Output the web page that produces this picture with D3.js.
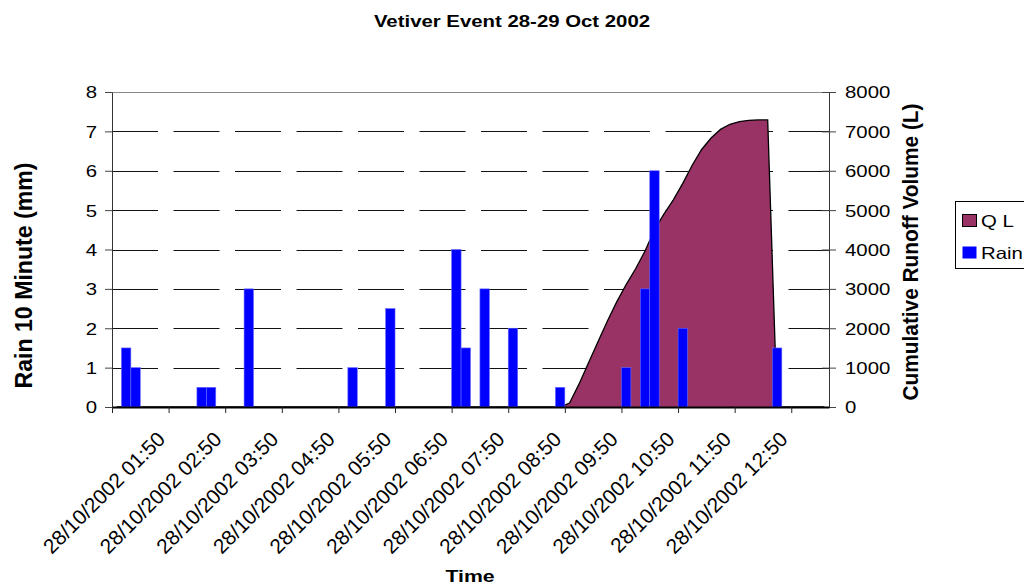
<!DOCTYPE html>
<html>
<head>
<meta charset="utf-8">
<script src="https://cdn.jsdelivr.net/npm/d3@7"></script>
<style>
  body { margin: 0; background: #fff; }
  text { font-family: "Liberation Sans", Arial, sans-serif; fill: #000; }
</style>
</head>
<body>
<svg id="chart" width="1024" height="586"></svg>
<script>
// rain per 10 minute step (mm), one value per category starting 28/10/2002 01:00
const rain = [
  0, 1.5, 1.0, 0, 0, 0, 0, 0, 0, 0.5, 0.5, 0,
  0, 0, 3.0, 0, 0, 0, 0, 0, 0, 0, 0, 0,
  0, 1.0, 0, 0, 0, 2.5, 0, 0, 0, 0, 0, 0,
  4.0, 1.5, 0, 3.0, 0, 0, 2.0, 0, 0, 0, 0, 0.5,
  0, 0, 0, 0, 0, 0, 1.0, 0, 3.0, 6.0, 0, 0,
  2.0, 0, 0, 0, 0, 0, 0, 0, 0, 0, 1.5, 0,
  0, 0, 0, 0
];

// cumulative runoff volume Q (L), same categories
const runoff = [
  0, 0, 0, 0, 0, 0, 0, 0, 0, 0, 0, 0,
  0, 0, 0, 0, 0, 0, 0, 0, 0, 0, 0, 0,
  0, 0, 0, 0, 0, 0, 0, 0, 0, 0, 0, 0,
  0, 0, 0, 0, 0, 0, 0, 0, 0, 0, 0, 0,
  100, 580, 1120, 1650, 2180, 2670, 3110, 3510, 3960, 4500, 4900, 5260,
  5680, 6140, 6540, 6830, 7050, 7180, 7250, 7280, 7290, 7290, 0, 0,
  0, 0, 0, 0
];

const tickIndex = [5, 11, 17, 23, 29, 35, 41, 47, 53, 59, 65, 71];
const tickLabels = [
  '28/10/2002 01:50', '28/10/2002 02:50', '28/10/2002 03:50', '28/10/2002 04:50',
  '28/10/2002 05:50', '28/10/2002 06:50', '28/10/2002 07:50', '28/10/2002 08:50',
  '28/10/2002 09:50', '28/10/2002 10:50', '28/10/2002 11:50', '28/10/2002 12:50'
];
const rainTicks = [0, 1, 2, 3, 4, 5, 6, 7, 8];
const runoffTicks = [0, 1000, 2000, 3000, 4000, 5000, 6000, 7000, 8000];
const gridValues = [1, 2, 3, 4, 5, 6, 7];

const width = 1024;
const height = 586;
const plot = {left: 112, right: 829, top: 92, bottom: 407};
const SX = 1.25; // the old picture is stretched sideways, text too

const svg = d3.select('#chart');
svg.append('rect').attr('width', width).attr('height', height).attr('fill', '#fff');

const x = d3.scaleBand()
  .domain(d3.range(rain.length))
  .range([plot.left, plot.right])
  .padding(0);
const xEdge = d3.scaleLinear().domain([0, rain.length]).range([plot.left, plot.right]);
const yRain = d3.scaleLinear().domain([0, 8]).range([plot.bottom, plot.top]);
const yRunoff = d3.scaleLinear().domain([0, 8000]).range([plot.bottom, plot.top]);
const cx = i => x(i) + x.bandwidth() / 2;

// dashed grid
svg.append('g')
  .selectAll('line')
  .data(gridValues)
  .enter()
  .append('line')
  .attr('x1', plot.left)
  .attr('x2', plot.right)
  .attr('y1', d => Math.round(yRain(d)) + 0.5)
  .attr('y2', d => Math.round(yRain(d)) + 0.5)
  .attr('stroke', '#111')
  .attr('stroke-dasharray', '46,15.5');

svg.append('line')
  .attr('x1', plot.left).attr('x2', plot.right)
  .attr('y1', plot.top + 0.5).attr('y2', plot.top + 0.5)
  .attr('stroke', '#888');

// Q L area
const area = d3.area()
  .x((d, i) => cx(i))
  .y0(plot.bottom)
  .y1(d => yRunoff(d));
const line = d3.line()
  .x((d, i) => cx(i))
  .y(d => yRunoff(d));

svg.append('path').datum(runoff).attr('d', area).attr('fill', '#993366');
svg.append('path').datum(runoff).attr('d', line)
  .attr('fill', 'none').attr('stroke', '#000').attr('stroke-width', 1.3);

// rain columns
svg.append('g')
  .selectAll('rect')
  .data(rain.map((v, i) => ({i, v})).filter(d => d.v > 0))
  .enter()
  .append('rect')
  .attr('x', d => x(d.i))
  .attr('width', x.bandwidth())
  .attr('y', d => yRain(d.v))
  .attr('height', d => yRain(0) - yRain(d.v))
  .attr('fill', '#0000ff')
  .attr('stroke', '#6a6aff')
  .attr('stroke-width', 0.6);

// left axis
const axisL = svg.append('g')
  .attr('transform', `translate(${plot.left},0)`)
  .call(d3.axisLeft(yRain).tickValues(rainTicks).tickSize(7).tickSizeOuter(0));
axisL.select('.domain').attr('stroke', '#333');
axisL.selectAll('.tick line').attr('stroke', '#444');
axisL.selectAll('.tick text')
  .attr('x', null)
  .attr('dy', '0.36em')
  .attr('transform', `translate(-15,0) scale(${SX},1)`)
  .attr('text-anchor', 'end')
  .style('font-size', '16.3px');

// right axis
const axisR = svg.append('g')
  .attr('transform', `translate(${plot.right},0)`)
  .call(d3.axisRight(yRunoff).tickValues(runoffTicks).tickSize(7).tickSizeOuter(0).tickFormat(d3.format('d')));
axisR.select('.domain').attr('stroke', '#333');
axisR.selectAll('.tick line').attr('x1', -7).attr('stroke', '#444');
axisR.selectAll('.tick text')
  .attr('x', null)
  .attr('dy', '0.36em')
  .attr('transform', `translate(16,0) scale(${SX},1)`)
  .attr('text-anchor', 'start')
  .style('font-size', '16.3px');

// bottom axis: tick marks between hours, labels on categories
const axisB = svg.append('g')
  .attr('transform', `translate(0,${plot.bottom})`)
  .call(d3.axisBottom(xEdge).tickValues(d3.range(0, rain.length, 6)).tickSize(6).tickSizeOuter(0).tickFormat(''));
axisB.select('.domain').attr('stroke', '#000').attr('stroke-width', 2);
axisB.selectAll('.tick line').attr('stroke', '#222');

const axisLabels = svg.append('g')
  .attr('transform', `translate(0,${plot.bottom})`)
  .call(d3.axisBottom(x).tickValues(tickIndex).tickSize(0).tickFormat((d, k) => tickLabels[k]));
axisLabels.select('.domain').remove();
axisLabels.selectAll('.tick text')
  .attr('y', null)
  .attr('dy', '0.1em')
  .attr('transform', 'translate(1,32) rotate(-45)')
  .attr('text-anchor', 'end')
  .style('font-size', '20.8px');

// titles
svg.append('text')
  .attr('transform', `translate(512,27) scale(${SX},1)`)
  .attr('text-anchor', 'middle')
  .style('font-weight', 'bold')
  .style('font-size', '16.3px')
  .text('Vetiver Event 28-29 Oct 2002');

svg.append('text')
  .attr('transform', `translate(470,582) scale(${SX},1)`)
  .attr('text-anchor', 'middle')
  .style('font-weight', 'bold')
  .style('font-size', '17px')
  .text('Time');

svg.append('text')
  .attr('transform', `translate(32,275.5) scale(${SX},1) rotate(-90)`)
  .attr('text-anchor', 'middle')
  .attr('textLength', 226)
  .attr('lengthAdjust', 'spacingAndGlyphs')
  .style('font-weight', 'bold')
  .style('font-size', '19.5px')
  .text('Rain 10 Minute (mm)');

svg.append('text')
  .attr('transform', `translate(918,252) scale(${SX},1) rotate(-90)`)
  .attr('text-anchor', 'middle')
  .attr('textLength', 297)
  .attr('lengthAdjust', 'spacingAndGlyphs')
  .style('font-weight', 'bold')
  .style('font-size', '17.5px')
  .text('Cumulative Runoff Volume (L)');

// legend
const legend = svg.append('g').attr('class', 'legend');
legend.append('rect')
  .attr('x', 955.5).attr('y', 201.5)
  .attr('width', 90).attr('height', 67)
  .attr('fill', '#fff').attr('stroke', '#000');

const legendItems = [
  {name: 'Q L', color: '#993366', stroke: '#000', y: 214},
  {name: 'Rain', color: '#0000ff', stroke: 'none', y: 246}
];
const item = legend.selectAll('.item')
  .data(legendItems)
  .enter()
  .append('g')
  .attr('class', 'item');
item.append('rect')
  .attr('x', 962.5).attr('y', d => d.y + 0.5)
  .attr('width', 14).attr('height', 12)
  .attr('fill', d => d.color)
  .attr('stroke', d => d.stroke);
item.append('text')
  .attr('transform', d => `translate(981,${d.y + 12.5}) scale(${SX},1)`)
  .style('font-size', '16.3px')
  .text(d => d.name);
</script>
</body>
</html>
